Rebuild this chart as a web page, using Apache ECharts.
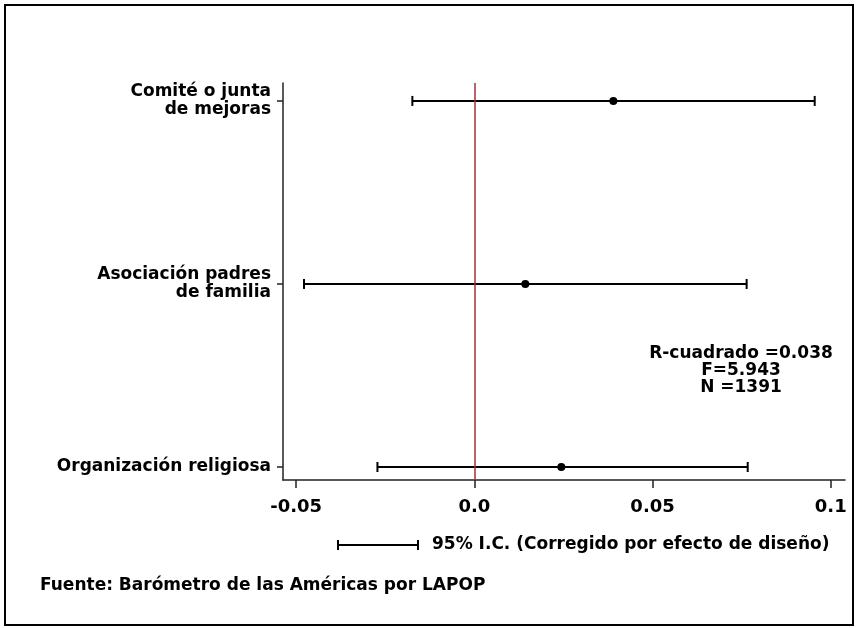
<!DOCTYPE html>
<html>
<head>
<meta charset="utf-8">
<script src="https://cdn.jsdelivr.net/npm/echarts@6/dist/echarts.min.js"></script>
<style>
  html, body { margin: 0; padding: 0; background: #fff; }
  #chart { width: 862px; height: 628px; }
</style>
</head>
<body>
<div id="chart"></div>
<script>
// coeficientes con intervalos de confianza al 95%
var categories = ['Organización religiosa', 'Asociación padres\nde familia', 'Comité o junta\nde mejoras'];
var estimates = [0.0244, 0.0143, 0.0390];
var lowerCI = [-0.0272, -0.0478, -0.0174];
var upperCI = [0.0767, 0.0764, 0.0955];
var xTicks = [-0.05, 0, 0.05, 0.1];
var xTickLabels = ['-0.05', '0.0', '0.05', '0.1'];
var statLines = ['R-cuadrado =0.038', 'F=5.943', 'N =1391'];

var font = '"DejaVu Sans", sans-serif';

var rows = categories.map(function (c, i) {
    return [i + 1, estimates[i], lowerCI[i], upperCI[i]];
});

function renderBar(params, api) {
    var y = api.value(0);
    var p = api.coord([api.value(1), y]);
    var lo = api.coord([api.value(2), y]);
    var hi = api.coord([api.value(3), y]);
    var cap = 5;
    var st = { stroke: '#000', lineWidth: 2 };
    return {
        type: 'group',
        children: [
            { type: 'line', shape: { x1: lo[0], y1: lo[1], x2: hi[0], y2: hi[1] }, style: st },
            { type: 'line', shape: { x1: lo[0], y1: lo[1] - cap, x2: lo[0], y2: lo[1] + cap }, style: st },
            { type: 'line', shape: { x1: hi[0], y1: hi[1] - cap, x2: hi[0], y2: hi[1] + cap }, style: st },
            { type: 'circle', shape: { cx: p[0], cy: p[1], r: 4 }, style: { fill: '#000' } }
        ]
    };
}

var myChart = echarts.init(document.getElementById('chart'));

var option = {
    animation: false,
    backgroundColor: '#fff',
    grid: { left: 283, right: 17, top: 83, bottom: 148 },
    xAxis: {
        type: 'value',
        min: -0.0537,
        max: 0.104,
        splitLine: { show: false },
        axisLine: { onZero: false, lineStyle: { color: '#222', width: 1.5 } },
        axisTick: { customValues: xTicks, length: 8, lineStyle: { color: '#222', width: 1.5 } },
        axisLabel: {
            customValues: xTicks,
            margin: 18,
            color: '#000',
            fontFamily: font,
            fontWeight: 'bold',
            fontSize: 18,
            formatter: function (v) {
                var i = xTicks.indexOf(v);
                return i >= 0 ? xTickLabels[i] : '';
            }
        }
    },
    yAxis: {
        type: 'value',
        min: 0.929,
        max: 3.098,
        splitLine: { show: false },
        axisLine: { show: true, onZero: false, lineStyle: { color: '#222', width: 1.5 } },
        axisTick: { show: true, customValues: [1, 2, 3], length: 6, lineStyle: { color: '#222', width: 1.5 } },
        axisLabel: {
            customValues: [1, 2, 3],
            margin: 12,
            color: '#000',
            fontFamily: font,
            fontWeight: 'bold',
            fontSize: 17,
            lineHeight: 18,
            align: 'right',
            formatter: function (v) { return categories[Math.round(v) - 1] || ''; }
        }
    },
    series: [{
        type: 'custom',
        renderItem: renderBar,
        encode: { x: [1, 2, 3], y: 0 },
        data: rows,
        markLine: {
            silent: true,
            symbol: 'none',
            label: { show: false },
            lineStyle: { color: '#a3323a', width: 1.5, type: 'solid' },
            data: [{ xAxis: 0 }]
        },
        z: 3
    }],
    graphic: [
        { type: 'rect', shape: { x: 5, y: 5, width: 848, height: 620 }, style: { fill: 'none', stroke: '#000', lineWidth: 2 }, silent: true },
        { type: 'text', x: 741, y: 345, style: { text: statLines.join('\n'), align: 'center', font: 'bold 17px ' + font, lineHeight: 17, fill: '#000' } },
        { type: 'line', shape: { x1: 338, y1: 545, x2: 418, y2: 545 }, style: { stroke: '#000', lineWidth: 2 } },
        { type: 'line', shape: { x1: 338, y1: 540, x2: 338, y2: 550 }, style: { stroke: '#000', lineWidth: 2 } },
        { type: 'line', shape: { x1: 418, y1: 540, x2: 418, y2: 550 }, style: { stroke: '#000', lineWidth: 2 } },
        { type: 'text', x: 432, y: 545, style: { text: '95% I.C. (Corregido por efecto de diseño)', verticalAlign: 'middle', font: 'bold 17px ' + font, fill: '#000' } },
        { type: 'text', x: 40, y: 586, style: { text: 'Fuente: Barómetro de las Américas por LAPOP', verticalAlign: 'middle', font: 'bold 17px ' + font, fill: '#000' } }
    ]
};

myChart.setOption(option);
</script>
</body>
</html>
